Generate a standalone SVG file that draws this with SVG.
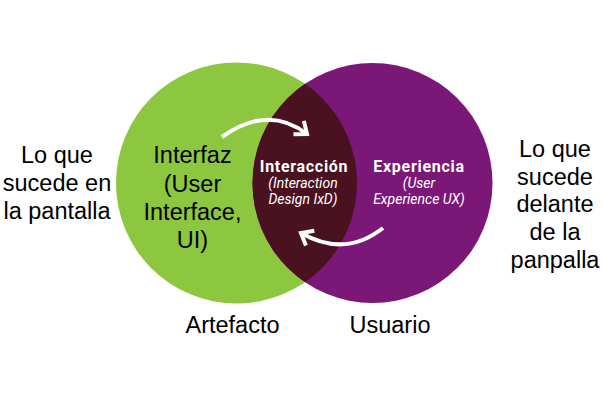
<svg xmlns="http://www.w3.org/2000/svg" width="605" height="402" viewBox="0 0 605 402">
  <defs>
    <style>
      .side { font-family: "Liberation Sans", Arial, sans-serif; font-size: 23.5px; fill: #000; text-anchor: middle; }
      .title { font-family: Roboto, "Liberation Sans", sans-serif; font-weight: bold; font-size: 16px; letter-spacing: 0.7px; fill: #fff; text-anchor: middle; }
      .sub { font-family: Roboto, "Liberation Sans", sans-serif; font-style: italic; font-size: 14px; fill: #fff; text-anchor: middle; }
      .flow { fill: none; stroke: #fff; stroke-width: 4; stroke-linecap: butt; }
    </style>
    <clipPath id="greenClip">
      <circle cx="236.5" cy="183" r="120.5"/>
    </clipPath>
    <marker id="chevron" markerUnits="userSpaceOnUse" markerWidth="30" markerHeight="30" refX="0" refY="0" viewBox="-15 -15 30 30" orient="auto" overflow="visible">
      <path d="M-10.5,-8.5 L0,0 L-10.5,8.5" fill="none" stroke="#fff" stroke-width="4" stroke-linejoin="miter"/>
    </marker>
  </defs>

  <rect width="605" height="402" fill="#fff"/>

  <!-- Artefacto circle -->
  <g id="artefacto">
    <circle cx="236.5" cy="183" r="120.5" fill="#8dc63f"/>
    <text class="side" x="192.5" y="163">Interfaz</text>
    <text class="side" x="192.5" y="192">(User</text>
    <text class="side" x="192.5" y="220">Interface,</text>
    <text class="side" x="192.5" y="248">UI)</text>
  </g>

  <!-- Usuario circle -->
  <g id="usuario">
    <circle cx="372.5" cy="183" r="120" fill="#7b1776"/>
    <text class="title" x="419" y="172">Experiencia</text>
    <text class="sub" x="419" y="188">(User</text>
    <text class="sub" x="419" y="204">Experience UX)</text>
  </g>

  <!-- Overlap: interaction -->
  <g id="interaccion">
    <circle cx="372.5" cy="183" r="120" fill="#4a1120" clip-path="url(#greenClip)"/>
    <text class="title" x="304" y="172">Interacción</text>
    <text class="sub" x="303" y="188">(Interaction</text>
    <text class="sub" x="303" y="204">Design IxD)</text>
  </g>

  <!-- Flow arrows -->
  <g id="connectors">
    <path class="flow" d="M222,137 Q268,104 307,134" marker-end="url(#chevron)"/>
    <path class="flow" d="M383,228 Q345,258 301,233" marker-end="url(#chevron)"/>
  </g>

  <!-- Side captions -->
  <g id="pantalla">
    <text class="side" x="57" y="163">Lo que</text>
    <text class="side" x="57" y="191">sucede en</text>
    <text class="side" x="57" y="219">la pantalla</text>
  </g>
  <g id="delante">
    <text class="side" x="555" y="157">Lo que</text>
    <text class="side" x="555" y="185">sucede</text>
    <text class="side" x="555" y="212">delante</text>
    <text class="side" x="555" y="240">de la</text>
    <text class="side" x="555" y="268">panpalla</text>
  </g>
  <g id="labels">
    <text class="side" x="232.5" y="333">Artefacto</text>
    <text class="side" x="390" y="333">Usuario</text>
  </g>
</svg>
